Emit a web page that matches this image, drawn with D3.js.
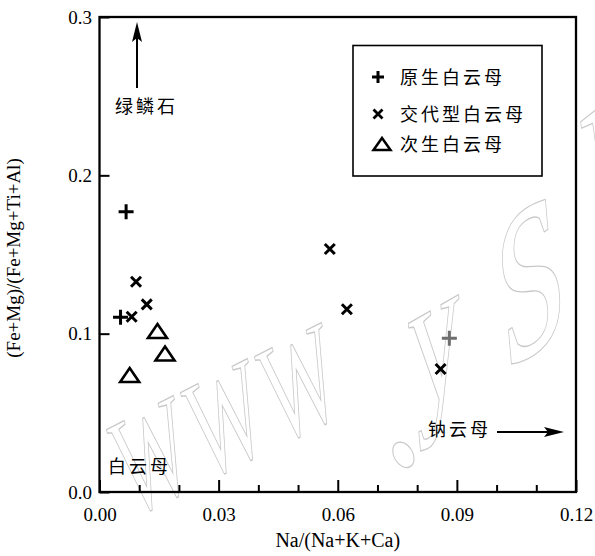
<!DOCTYPE html>
<html>
<head>
<meta charset="utf-8">
<script src="https://cdn.jsdelivr.net/npm/d3@7"></script>
<style>
  html, body { margin: 0; padding: 0; background: #fff; }
  svg { display: block; }
</style>
</head>
<body>
<script>
// Muscovite composition: Na/(Na+K+Ca) vs (Fe+Mg)/(Fe+Mg+Ti+Al)
const primaryX = [0.0067, 0.0053, 0.0881];
const primaryY = [0.1770, 0.1103, 0.0971];
const replacedX = [0.0092, 0.0119, 0.0081, 0.0580, 0.0623, 0.0859];
const replacedY = [0.1328, 0.1185, 0.1107, 0.1535, 0.1154, 0.0777];
const secondaryX = [0.0146, 0.0165, 0.0076];
const secondaryY = [0.1017, 0.0875, 0.0739];

const xMajorTicks = [0, 0.03, 0.06, 0.09, 0.12];
const xMinorTicks = [0.01, 0.02, 0.04, 0.05, 0.07, 0.08, 0.10, 0.11];
const yTicks = [0, 0.1, 0.2, 0.3];

const legendLabels = ["原生白云母", "交代型白云母", "次生白云母"];
const xTitle = "Na/(Na+K+Ca)";
const yTitle = "(Fe+Mg)/(Fe+Mg+Ti+Al)";

const W = 595, H = 556;
const plotL = 99.5, plotR = 576, plotT = 17, plotB = 492;

const svg = d3.select("body").append("svg")
  .attr("width", W).attr("height", H)
  .attr("viewBox", `0 0 ${W} ${H}`);
svg.append("rect").attr("width", W).attr("height", H).attr("fill", "#fff");

const x = d3.scaleLinear().domain([0, 0.12]).range([plotL, plotR]);
const y = d3.scaleLinear().domain([0, 0.3]).range([plotB, plotT]);

const serif = "'Liberation Serif','Times New Roman',serif";
const cjk = "'Noto Sans CJK SC','Noto Sans',sans-serif";

// faint outlined site mark behind the plot, letters growing toward the right
const markGlyphs = [
  { ch: "W", c: [152, 456], rot: -27, skew: -12, s: [0.8, 1.38] },
  { ch: "W", c: [226, 419], rot: -27, skew: -12, s: [0.8, 1.38] },
  { ch: "W", c: [300, 383], rot: -27, skew: -12, s: [0.8, 1.38] },
  { ch: ".", c: [370, 397], rot: -30, skew: 0, s: [1.6, 2.3] },
  { ch: "y", c: [435, 333], rot: -30, skew: -25, s: [1.2, 1.75] },
  { ch: "s", c: [528, 250], rot: -35, skew: -30, s: [2.0, 2.6] },
  { ch: "k", c: [632, 200], rot: -38, skew: -30, s: [2.0, 2.6] }
];
const markLayer = svg.append("g");
markGlyphs.forEach(g => {
  const holder = markLayer.append("g");
  const t = holder.append("text")
    .attr("font-family", serif).attr("font-size", 100)
    .attr("fill", "none").attr("stroke", "#c8c8c8").attr("stroke-width", 1.1)
    .attr("vector-effect", "non-scaling-stroke")
    .text(g.ch);
  const b = t.node().getBBox();
  const bcx = b.x + b.width / 2, bcy = b.y + b.height / 2;
  holder.attr("transform",
    `translate(${g.c[0]},${g.c[1]}) rotate(${g.rot}) skewX(${g.skew}) scale(${g.s[0]},${g.s[1]}) translate(${-bcx},${-bcy})`);
});

// axes with inward ticks
const xAxis = svg.append("g").attr("transform", `translate(0,${plotB})`)
  .call(d3.axisBottom(x).tickValues(xMajorTicks).tickSize(-12).tickPadding(16)
    .tickFormat(d3.format(".2f")));
const xMinor = svg.append("g").attr("transform", `translate(0,${plotB})`)
  .call(d3.axisBottom(x).tickValues(xMinorTicks).tickSize(-7).tickFormat(""));
const yAxis = svg.append("g").attr("transform", `translate(${plotL},0)`)
  .call(d3.axisLeft(y).tickValues(yTicks).tickSize(-10).tickPadding(7.5)
    .tickFormat(d3.format(".1f")));

[xAxis, xMinor, yAxis].forEach(a => {
  a.select(".domain").remove();
  a.selectAll(".tick line").attr("stroke", "#000").attr("stroke-width", 2);
  a.selectAll(".tick text").attr("font-family", serif).attr("font-size", 19).attr("fill", "#000");
});

// frame
svg.append("rect")
  .attr("x", plotL).attr("y", plotT)
  .attr("width", plotR - plotL).attr("height", plotB - plotT)
  .attr("fill", "none").attr("stroke", "#000").attr("stroke-width", 2.3);

// axis titles
svg.append("text")
  .attr("x", (plotL + plotR) / 2).attr("y", 547)
  .attr("text-anchor", "middle")
  .attr("font-family", serif).attr("font-size", 20)
  .text(xTitle);
svg.append("text")
  .attr("transform", `translate(20,258) rotate(-90)`)
  .attr("text-anchor", "middle")
  .attr("font-family", serif).attr("font-size", 19)
  .text(yTitle);

// marker shapes
const plusPath = s => `M${-s},0H${s}M0,${-s}V${s}`;
const crossPath = s => `M${-s},${-s}L${s},${s}M${-s},${s}L${s},${-s}`;
const triPath = (hw, up, down) => `M0,${-up}L${hw},${down}L${-hw},${down}Z`;
const primaryTone = ["#000", "#000", "#6e6e6e"];

const marks = svg.append("g");
marks.selectAll("path.primary")
  .data(primaryX.map((v, i) => ({ x: v, y: primaryY[i], tone: primaryTone[i] })))
  .join("path").attr("class", "primary")
  .attr("transform", d => `translate(${x(d.x)},${y(d.y)})`)
  .attr("d", plusPath(7.5))
  .attr("stroke", d => d.tone).attr("stroke-width", 3).attr("fill", "none");

marks.selectAll("path.replaced")
  .data(replacedX.map((v, i) => ({ x: v, y: replacedY[i] })))
  .join("path").attr("class", "replaced")
  .attr("transform", d => `translate(${x(d.x)},${y(d.y)})`)
  .attr("d", crossPath(5))
  .attr("stroke", "#000").attr("stroke-width", 3).attr("fill", "none");

marks.selectAll("path.secondary")
  .data(secondaryX.map((v, i) => ({ x: v, y: secondaryY[i] })))
  .join("path").attr("class", "secondary")
  .attr("transform", d => `translate(${x(d.x)},${y(d.y)})`)
  .attr("d", triPath(9.5, 7, 7))
  .attr("stroke", "#000").attr("stroke-width", 2.6).attr("fill", "none")
  .attr("stroke-linejoin", "miter");

// legend
const lg = svg.append("g");
lg.append("rect")
  .attr("x", 353).attr("y", 45.5).attr("width", 189).attr("height", 130.5)
  .attr("fill", "#fff").attr("stroke", "#000").attr("stroke-width", 1.6);
const rowsY = [77, 114, 144];
const legendShapes = [plusPath(6), crossPath(4.5), triPath(8.5, 6, 6)];
const legendWidths = [3, 2.8, 2.5];
const legendX = [378, 378, 382];
legendLabels.forEach((lab, i) => {
  lg.append("path")
    .attr("transform", `translate(${legendX[i]},${rowsY[i]})`)
    .attr("d", legendShapes[i])
    .attr("stroke", "#000").attr("stroke-width", legendWidths[i]).attr("fill", "none");
  lg.append("text")
    .attr("x", 400).attr("y", rowsY[i] + 7)
    .attr("font-family", cjk).attr("font-size", 18).attr("letter-spacing", 3)
    .text(lab);
});

// region annotations
const note = (txt, px, py) => svg.append("text")
  .attr("x", px).attr("y", py)
  .attr("font-family", cjk).attr("font-size", 18).attr("letter-spacing", 3)
  .text(txt);
note("绿鳞石", 115, 113);
note("钠云母", 428, 436);
note("白云母", 108, 473);

// arrows toward the end-member fields
svg.append("line").attr("x1", 137).attr("y1", 88).attr("x2", 137).attr("y2", 32)
  .attr("stroke", "#000").attr("stroke-width", 2);
svg.append("path").attr("d", "M137,22L132,42L137,38L142,42Z").attr("fill", "#000");
svg.append("line").attr("x1", 497).attr("y1", 432).attr("x2", 553).attr("y2", 432)
  .attr("stroke", "#000").attr("stroke-width", 2);
svg.append("path").attr("d", "M564,432L544,427L548,432L544,437Z").attr("fill", "#000");
</script>
</body>
</html>
